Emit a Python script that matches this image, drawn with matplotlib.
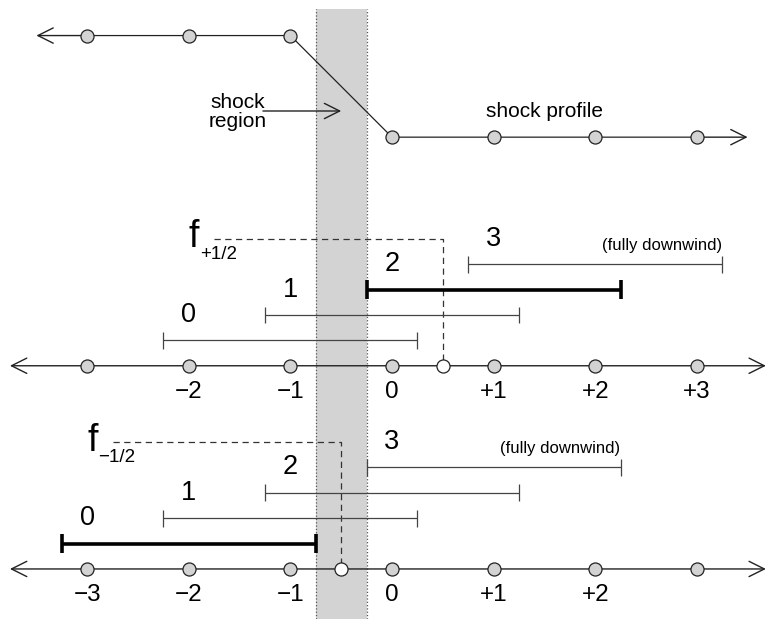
import matplotlib.pyplot as plt

plt.rcParams['font.family'] = ['Liberation Sans', 'DejaVu Sans']

# grid nodes along each line
nodes = [-3, -2, -1, 0, 1, 2, 3]

# shock profile: upwind (high) state, then downwind (low) state
profile_x = [-3, -2, -1, 0, 1, 2, 3]
profile_y = [13, 13, 13, 9, 9, 9, 9]

# shock region between cells -1 and 0
shock_left, shock_right = -0.75, -0.25

# stencils for the face at +1/2
plus_starts = [-2.25, -1.25, -0.25, 0.75]
plus_ends = [0.25, 1.25, 2.25, 3.25]
plus_bold = 2
plus_face = 0.5
plus_tick_x = [-2, -1, 0, 1, 2, 3]
plus_ticks = ['−2', '−1', '0', '+1', '+2', '+3']

# stencils for the face at -1/2
minus_starts = [-3.25, -2.25, -1.25, -0.25]
minus_ends = [-0.75, 0.25, 1.25, 2.25]
minus_bold = 0
minus_face = -0.5
minus_tick_x = [-3, -2, -1, 0, 1, 2]
minus_ticks = ['−3', '−2', '−1', '0', '+1', '+2']

GRAY = '#d3d3d3'
DARK = '#222222'

fig = plt.figure(figsize=(7.67, 6.19), dpi=100)
ax = fig.add_axes([0, 0, 1, 1])
ax.set_xlim(-3.858, 3.691)
ax.set_ylim(-9.97, 14.4)
ax.axis('off')


def arrow(x0, x1, y, style):
    ax.annotate('', xy=(x1, y), xytext=(x0, y),
                arrowprops=dict(arrowstyle=style + ',head_length=1.1,head_width=0.55',
                                lw=1, color=DARK, shrinkA=0, shrinkB=0))


def dots(xs, ys, face=GRAY):
    ax.plot(xs, ys, 'o', ms=9.4, mfc=face, mec=DARK, mew=0.9, zorder=5)


# shaded shock region with dotted edges
ax.axvspan(shock_left, shock_right, ymin=0, ymax=(14.04 + 9.97) / 24.37,
           color=GRAY, lw=0, zorder=0)
for xe in (shock_left, shock_right):
    ax.plot([xe, xe], [-9.97, 14.04], ls=':', lw=0.9, color='#555555', zorder=1)

# shock profile
ax.plot(profile_x, profile_y, color=DARK, lw=0.9, zorder=3)
arrow(profile_x[0], -3.5, profile_y[0], '->')
arrow(profile_x[-1], 3.5, profile_y[-1], '->')
dots(profile_x, profile_y)
ax.text(1.5, 10.0, 'shock profile', fontsize=15, ha='center', va='center')
ax.text(-1.52, 10.0, 'shock\nregion', fontsize=15, ha='center', va='center',
        linespacing=1.0)
arrow(-1.27, -0.5, 10.03, '->')


def section(base, starts, ends, bold, face, tick_x, ticks, sub):
    arrow(-3.76, 3.68, base, '<->')
    dots(nodes, [base] * len(nodes))
    dots([face], [base], face='white')
    for x, t in zip(tick_x, ticks):
        ax.text(x, base - 1.03, t, fontsize=17.5, ha='center', va='center')
    for k, (s, e) in enumerate(zip(starts, ends)):
        lvl = base + k + 1
        if k == bold:
            lw, c, h = 2.6, 'black', 0.36
        else:
            lw, c, h = 0.9, '#444444', 0.33
        ax.plot([s, e], [lvl, lvl], color=c, lw=lw, zorder=3,
                solid_capstyle='butt')
        ax.vlines([s, e], lvl - h, lvl + h, color=c, lw=lw, zorder=3)
        ax.text(s + 0.25, lvl + 1, str(k), fontsize=19.5, ha='center', va='center')
    ax.text(ends[-1], base + 4.73, '(fully downwind)', fontsize=12,
            ha='right', va='center')
    # flux line down to the face
    top = base + 5
    ax.plot([starts[0] + 0.5, face, face], [top, top, base], ls=(0, (5, 3.6)),
            lw=0.9, color='#333333', zorder=2)
    ax.text(starts[0] + 0.3, top + 0.05, 'f', fontsize=27, ha='center', va='center')
    ax.text(starts[0] + 0.36, top - 0.62, sub, fontsize=13.5, ha='left', va='center')


section(0, plus_starts, plus_ends, plus_bold, plus_face,
        plus_tick_x, plus_ticks, '+1/2')
section(-8, minus_starts, minus_ends, minus_bold, minus_face,
        minus_tick_x, minus_ticks, '−1/2')

fig.savefig('out.png', dpi=100)
